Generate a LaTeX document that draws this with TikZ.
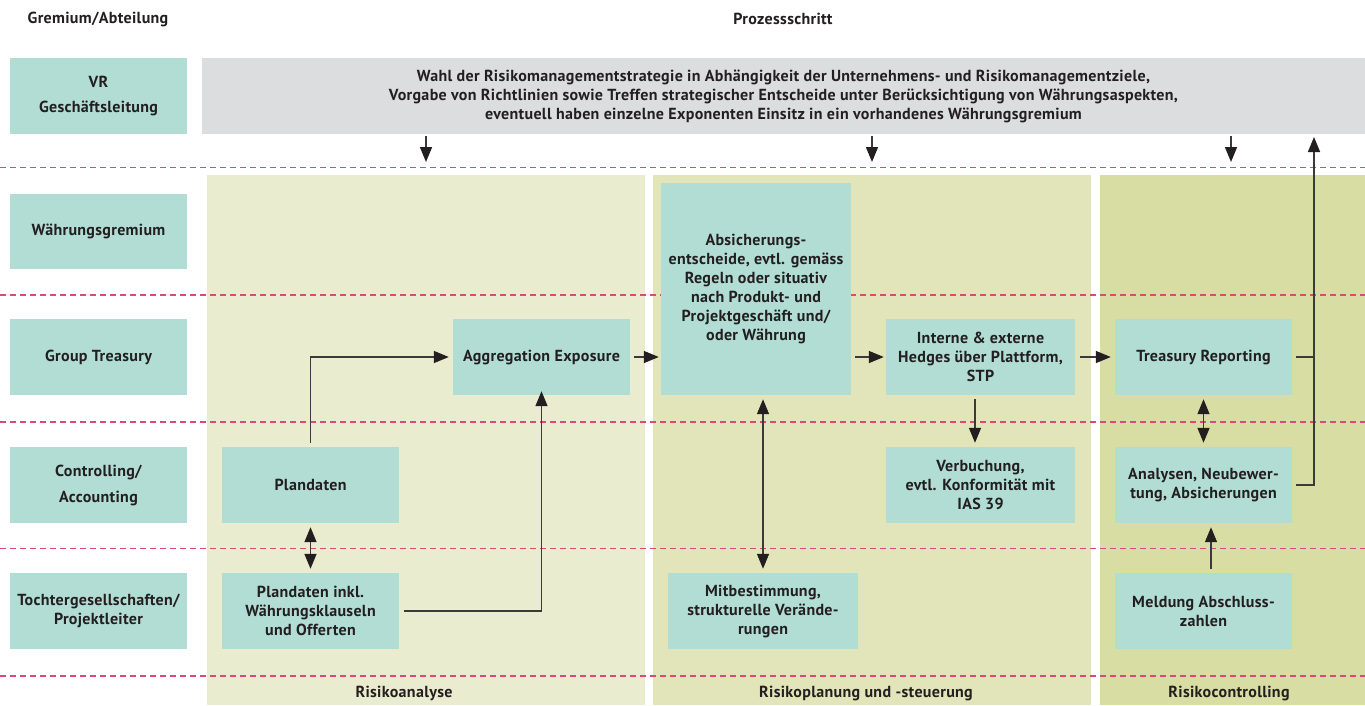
\documentclass[tikz,border=0pt]{standalone}
\usepackage{fontspec}
\setmainfont[LetterSpace=2]{PT Sans}
\usetikzlibrary{arrows.meta}
\definecolor{boxc}{HTML}{B2DDD4}
\definecolor{grayc}{HTML}{DCDDDF}
\definecolor{phA}{HTML}{E9ECCF}
\definecolor{phB}{HTML}{E2E5BA}
\definecolor{phC}{HTML}{D8DDA4}
\definecolor{dashc}{HTML}{D9497A}
\definecolor{txtc}{HTML}{231F20}
\definecolor{linec}{HTML}{3A3A3A}
\tikzset{
  tbox/.style={fill=boxc, inner sep=0pt, align=center, text=txtc,
    font=\bfseries\fontsize{16}{19}\selectfont},
  gbox/.style={fill=grayc, inner sep=0pt, align=center, text=txtc,
    font=\bfseries\fontsize{16}{19}\selectfont},
  lbl/.style={inner sep=0pt, text=txtc, font=\bfseries\fontsize{16}{19}\selectfont},
  sep/.style={dashc, line width=1.4pt, dash pattern=on 6pt off 4pt},
  arr/.style={linec, line width=1.5pt, -{Triangle[length=15pt,width=12pt,color=txtc]}},
  darr/.style={linec, line width=1.5pt, {Triangle[length=15pt,width=12pt,color=txtc]}-{Triangle[length=15pt,width=12pt,color=txtc]}},
  conn/.style={linec, line width=1.5pt}
}
\begin{document}
\begin{tikzpicture}[x=1pt,y=-1pt]
\useasboundingbox[fill=white] (0,0) rectangle (1365,705);
% phases
\fill[phA] (207,175) rectangle (645,705);
\fill[phB] (653,175) rectangle (1091,705);
\fill[phC] (1100,175) rectangle (1365,705);
% separators
\foreach \yy in {167.5,295,422,548.5,676}
  \draw[sep] (0,\yy) -- (1365,\yy);
% headers
\node[lbl] (hgr) at (98,19) {Gremium/Abteilung};
\node[lbl] (hps) at (783,19) {Prozessschritt};
\node[lbl] (pa) at (404,693) {Risikoanalyse};
\node[lbl] (pb) at (866,693) {Risikoplanung und -steuerung};
\node[lbl] (pc) at (1229,693) {Risikocontrolling};
% left column
\node[tbox, minimum width=177pt, minimum height=76pt, font=\bfseries\fontsize{16}{25}\selectfont] (vr) at (98.5,96) {VR\\Geschäftsleitung};
\node[tbox, minimum width=177pt, minimum height=75pt] (wg) at (98.5,231.5) {Währungsgremium};
\node[tbox, minimum width=177pt, minimum height=76pt] (gt) at (98.5,357) {Group Treasury};
\node[tbox, minimum width=177pt, minimum height=76pt, font=\bfseries\fontsize{16}{26}\selectfont] (ca) at (98.5,485) {Controlling/\\Accounting};
\node[tbox, minimum width=177pt, minimum height=76pt] (tg) at (98.5,611) {Tochtergesellschaften/\\Projektleiter};
% gray box
\node[gbox, minimum width=1163pt, minimum height=76pt] (gray) at (783.5,96) {Wahl der Risikomanagementstrategie in Abhängigkeit der Unternehmens- und Risikomanagementziele,\\Vorgabe von Richtlinien sowie Treffen strategischer Entscheide unter Berücksichtigung von Währungsaspekten,\\eventuell haben einzelne Exponenten Einsitz in ein vorhandenes Währungsgremium};
% process boxes
\node[tbox, minimum width=177pt, minimum height=76pt] (agg) at (541.5,357) {Aggregation Exposure};
\node[tbox, minimum width=177pt, minimum height=76pt] (plan) at (310.5,485) {Plandaten};
\node[tbox, minimum width=177pt, minimum height=76pt] (inkl) at (310.5,611) {Plandaten inkl.\\Währungsklauseln\\und Offerten};
\node[tbox, minimum width=190pt, minimum height=212pt] (abs) at (756,289) {Absicherungs-\\entscheide, evtl. gemäss\\Regeln oder situativ\\nach Produkt- und\\Projektgeschäft und/\\oder Währung};
\node[tbox, minimum width=189pt, minimum height=76pt] (int) at (980.5,357) {Interne \& externe\\Hedges über Plattform,\\STP};
\node[tbox, minimum width=189pt, minimum height=76pt] (verb) at (980.5,485) {Verbuchung,\\evtl. Konformität mit\\IAS 39};
\node[tbox, minimum width=190pt, minimum height=76pt] (mit) at (763,611) {Mitbestimmung,\\strukturelle Verände-\\rungen};
\node[tbox, minimum width=177pt, minimum height=76pt] (tr) at (1203.5,357) {Treasury Reporting};
\node[tbox, minimum width=177pt, minimum height=76pt] (ana) at (1203.5,485) {Analysen, Neubewer-\\tung, Absicherungen};
\node[tbox, minimum width=177pt, minimum height=76pt] (meld) at (1203.5,611) {Meldung Abschluss-\\zahlen};
% free-end coordinates
\coordinate (d1) at (426,162);
\coordinate (d2) at (872,162);
\coordinate (d3) at (1231,162);
\coordinate (up) at (1314,137);
% connectors
\draw[arr] (gray.south -| d1) ++(0,2) -- (d1);
\draw[arr] (gray.south -| d2) ++(0,2) -- (d2);
\draw[arr] (gray.south -| d3) ++(0,2) -- (d3);
\draw[arr, shorten <=4pt] (plan.north) |- ([xshift=-4pt]agg.west);
\draw[darr, shorten <=4pt, shorten >=4pt] (plan.south) -- (inkl.north);
\draw[arr] ([xshift=5pt]inkl.east) -| ([yshift=4pt]agg.south);
\draw[arr] ([xshift=4pt]agg.east) -- ([xshift=-2pt]abs.west |- agg.east);
\draw[arr] ([xshift=4pt]abs.east |- int.west) -- ([xshift=-2pt]int.west);
\draw[arr] ([xshift=5pt]int.east) -- ([xshift=-4pt]tr.west);
\draw[arr, shorten <=4pt, shorten >=4pt] ([xshift=-5.5pt]int.south) -- ([xshift=-5.5pt]verb.north);
\draw[darr, shorten <=4pt, shorten >=4pt] (mit.north |- abs.south) -- (mit.north);
\draw[darr, shorten <=4pt, shorten >=4pt] (tr.south) -- (ana.north);
\draw[arr, shorten <=4pt, shorten >=4pt] ([xshift=7.5pt]meld.north) -- ([xshift=7.5pt]ana.south);
\draw[arr] ([xshift=4pt]ana.east) -| (up);
\draw[conn] ([xshift=4pt]tr.east) -- (tr.east -| up);
\end{tikzpicture}
\end{document}
